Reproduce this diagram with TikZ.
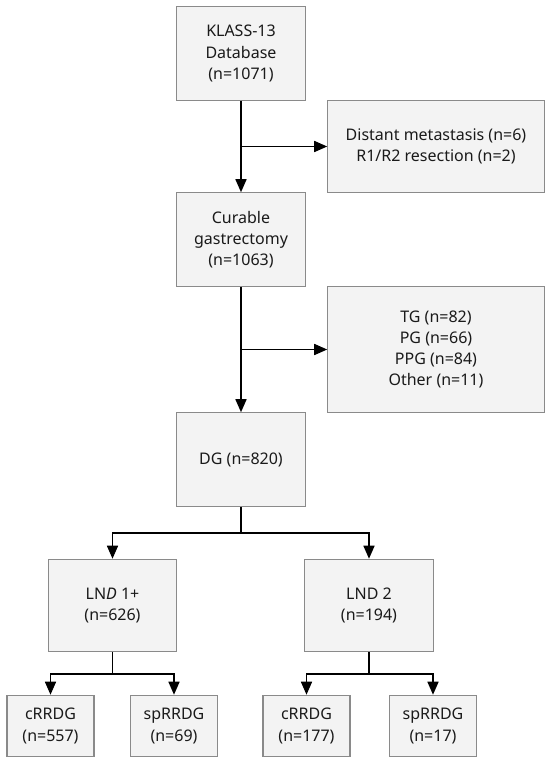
\documentclass[tikz,border=0pt]{standalone}
\usepackage{fontspec}
\setmainfont{Noto Sans}
\usetikzlibrary{arrows.meta}
\definecolor{boxline}{HTML}{8A8A8A}
\definecolor{boxfill}{HTML}{F3F3F3}
\definecolor{boxtext}{HTML}{1A1A1A}

\begin{document}
\begin{tikzpicture}[
    box/.style={draw=boxline, line width=0.6pt, fill=boxfill, text=boxtext, align=center,
      inner sep=0pt, font=\fontsize{9.1}{12.1}\selectfont},
    bigbox/.style={box, minimum width=2.57cm, minimum height=1.87cm},
    smallbox/.style={box, minimum width=1.74cm, minimum height=1.23cm},
    arr/.style={line width=0.9pt, -{Triangle[length=2.6mm, width=2.2mm]}}
  ]
    \useasboundingbox (0, 0) rectangle (11, -15.24);
    % main column
    \node[bigbox] (klass) at (4.82, -1.07) {KLASS-13\\Database\\(n=1071)};
    \node[bigbox] (cur) at (4.82, -4.79) {Curable\\gastrectomy\\(n=1063)};
    \node[bigbox] (dg) at (4.82, -9.19) {DG (n=820)};
    % exclusions
    \node[box, minimum width=4.33cm, minimum height=1.85cm] (excla) at (8.72, -2.93)
        {Distant metastasis (n=6)\\R1/R2 resection (n=2)};
    \node[box, minimum width=4.33cm, minimum height=2.52cm] (exclb) at (8.72, -6.99)
        {TG (n=82)\\PG (n=66)\\PPG (n=84)\\Other (n=11)};
    % lymph node dissection
    \node[bigbox, minimum height=1.85cm] (lnda) at (2.25, -12.11) {LN{\itshape D} 1+\\(n=626)};
    \node[bigbox, minimum height=1.85cm] (lndb) at (7.38, -12.11) {LND 2\\(n=194)};
    % bottom row
    \node[smallbox] (ca) at (1.01, -14.52) {cRRDG\\(n=557)};
    \node[smallbox] (spa) at (3.48, -14.52) {spRRDG\\(n=69)};
    \node[smallbox] (cb) at (6.13, -14.52) {cRRDG\\(n=177)};
    \node[smallbox] (spb) at (8.66, -14.52) {spRRDG\\(n=17)};

    \draw[arr] (klass) -- (cur);
    \draw[arr] (klass |- excla) -- (excla);
    \draw[arr] (cur) -- (dg);
    \draw[arr] (cur |- exclb) -- (exclb);

    \draw[line width=0.9pt] (dg.south) -- ++(0, -0.53) coordinate (dgsplit);
    \draw[arr] (dgsplit) -| (lnda);
    \draw[arr] (dgsplit) -| (lndb);

    \draw[line width=0.9pt] (lnda.south) -- ++(0, -0.43) coordinate (asplit);
    \draw[arr] (asplit) -| (ca);
    \draw[arr] (asplit) -| (spa);
    \draw[line width=0.9pt] (lndb.south) -- ++(0, -0.43) coordinate (bsplit);
    \draw[arr] (bsplit) -| (cb);
    \draw[arr] (bsplit) -| (spb);
\end{tikzpicture}
\end{document}
